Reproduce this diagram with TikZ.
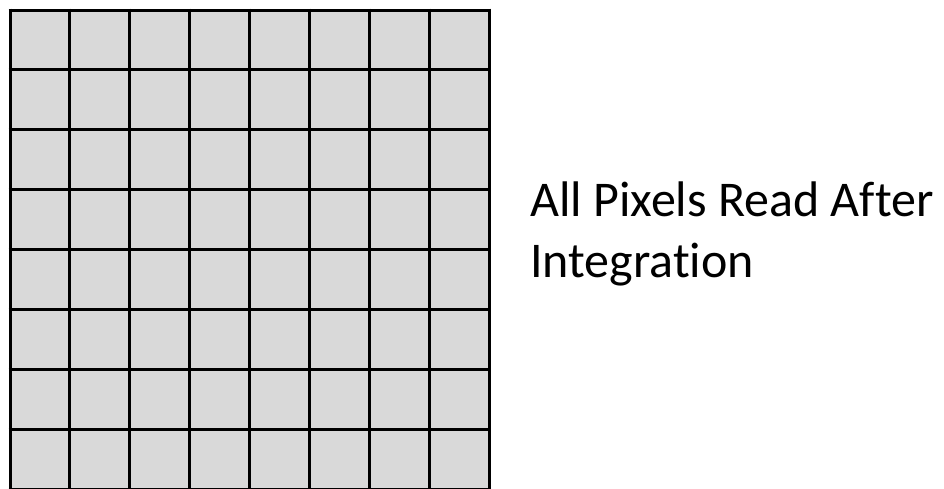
\documentclass[tikz,border=0pt]{standalone}
\usepackage{fontspec}
\setmainfont[Ligatures=NoCommon]{Carlito}
\definecolor{pixfill}{RGB}{217,217,217}
\begin{document}
\begin{tikzpicture}[x=1pt,y=-1pt,
  gridline/.style={line width=3pt,black},
  label/.style={anchor=base west,inner sep=0pt,font=\fontsize{50}{60}\selectfont}]
\useasboundingbox (0,0) rectangle (944,488);
\begin{scope}
\clip (0,0) rectangle (944,488);
\fill[pixfill] (10,10) rectangle (489,489);
\foreach \i in {0,...,8}{
  \draw[gridline] (10+\i*59.875,8.5) -- (10+\i*59.875,491);
  \draw[gridline] (8.5,10+\i*59.875) -- (490.5,10+\i*59.875);
}
\end{scope}
\node[label] (l1) at (530,216) {All Pixels Read After};
\node[label] (l2) at (530,277) {Integration};
\end{tikzpicture}
\end{document}
